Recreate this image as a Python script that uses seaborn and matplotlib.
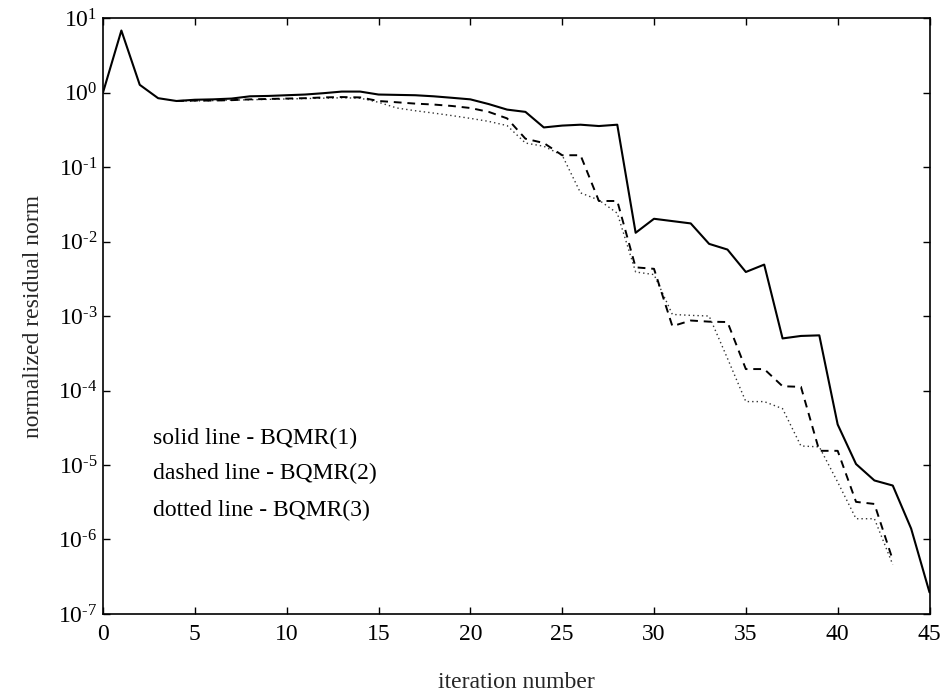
import numpy as np
import pandas as pd
import matplotlib
matplotlib.use("Agg")
import matplotlib.pyplot as plt
from matplotlib.ticker import FixedLocator, FuncFormatter, NullLocator
import seaborn as sns

# ---- data ----
iter_solid = list(range(0, 46))
bqmr1 = [1.0, 6.8, 1.27, 0.84, 0.77, 0.80, 0.81, 0.83, 0.89, 0.90,
         0.92, 0.94, 0.98, 1.03, 1.03, 0.94, 0.93, 0.92, 0.89, 0.85,
         0.81, 0.70, 0.59, 0.55, 0.34, 0.36, 0.37, 0.355, 0.37, 0.0131,
         0.0202, 0.0188, 0.0175, 0.0093, 0.0078, 0.0039, 0.0049, 5.0e-4, 5.4e-4, 5.5e-4,
         3.5e-5, 1.03e-5, 6.2e-6, 5.3e-6, 1.4e-6, 1.95e-7]

iter_multi = list(range(4, 44))
bqmr2 = [0.77, 0.78, 0.78, 0.79, 0.81, 0.82, 0.83, 0.84, 0.86, 0.87,
         0.86, 0.77, 0.74, 0.71, 0.69, 0.66, 0.62, 0.55, 0.45, 0.24,
         0.21, 0.144, 0.144, 0.035, 0.035, 0.0045, 0.0043, 7.3e-4, 8.7e-4, 8.4e-4,
         8.3e-4, 1.94e-4, 1.94e-4, 1.14e-4, 1.12e-4, 1.55e-5, 1.55e-5, 3.2e-6, 3.0e-6, 5.3e-7]
bqmr3 = [0.77, 0.77, 0.78, 0.79, 0.80, 0.81, 0.82, 0.83, 0.84, 0.85,
         0.84, 0.74, 0.62, 0.57, 0.53, 0.49, 0.45, 0.41, 0.36, 0.21,
         0.19, 0.144, 0.045, 0.036, 0.024, 0.0039, 0.0036, 1.05e-3, 1.02e-3, 1.0e-3,
         2.7e-4, 7.1e-5, 7.1e-5, 5.7e-5, 1.8e-5, 1.75e-5, 5.9e-6, 1.9e-6, 1.9e-6, 4.6e-7]

legend_lines = ["solid line - BQMR(1)", "dashed line - BQMR(2)", "dotted line - BQMR(3)"]
x_ticks = [0, 5, 10, 15, 20, 25, 30, 35, 40, 45]
y_exps = [-7, -6, -5, -4, -3, -2, -1, 0, 1]

# ---- style ----
sns.set_style("ticks")
plt.rcParams["font.family"] = ["Liberation Serif", "DejaVu Serif"]
plt.rcParams["mathtext.default"] = "regular"
plt.rcParams["mathtext.fontset"] = "custom"
plt.rcParams["mathtext.rm"] = "Liberation Serif"
plt.rcParams["axes.unicode_minus"] = False

fig = plt.figure(figsize=(9.45, 6.94), dpi=100)
ax = fig.add_axes([0.109, 0.1153, 0.8746, 0.8587])

df1 = pd.DataFrame({"it": iter_solid, "r": bqmr1})
df2 = pd.DataFrame({"it": iter_multi, "r": bqmr2})
df3 = pd.DataFrame({"it": iter_multi, "r": bqmr3})

sns.lineplot(data=df3, x="it", y="r", ax=ax, color="#333333", linewidth=1.0,
             linestyle=(0, (1, 2.2)))
sns.lineplot(data=df2, x="it", y="r", ax=ax, color="black", linewidth=1.4,
             linestyle=(0, (4, 3)))
sns.lineplot(data=df1, x="it", y="r", ax=ax, color="black", linewidth=1.5,
             linestyle="-")

ax.set_yscale("log")
ax.set_xlim(0, 45)
ax.set_ylim(1e-7, 1e1)
ax.xaxis.set_major_locator(FixedLocator(x_ticks))
ax.yaxis.set_major_locator(FixedLocator([10.0 ** e for e in y_exps]))
ax.yaxis.set_minor_locator(NullLocator())
ax.yaxis.set_major_formatter(FuncFormatter(
    lambda v, p: "10$^{\\text{%d}}$" % int(round(np.log10(v)))))
ax.tick_params(axis="both", which="major", direction="in", length=5, width=1,
               top=True, right=True, labelsize=17, pad=4, colors="black")
ax.tick_params(axis="x", pad=7)
for s in ax.spines.values():
    s.set_linewidth(1.2)
    s.set_color("black")

ax.set_xlabel("iteration number", fontsize=17, labelpad=20)
ax.set_ylabel("normalized residual norm", fontsize=17, labelpad=10)

for txt, yy in zip(legend_lines, [0.295, 0.236, 0.174]):
    ax.text(0.060, yy, txt, transform=ax.transAxes, fontsize=17,
            va="center", ha="left", color="black")

fig.savefig("out.png", dpi=100)
